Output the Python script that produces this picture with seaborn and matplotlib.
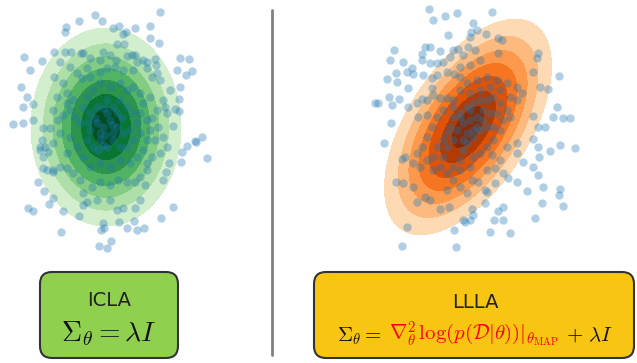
import numpy as np
import pandas as pd
import matplotlib.pyplot as plt
import seaborn as sns
from matplotlib.patches import FancyBboxPatch

sns.set_style("white")
plt.rcParams['font.family'] = ['DejaVu Sans']
plt.rcParams['mathtext.fontset'] = 'cm'

########################
# DATOS (coordenadas leidas en pixeles de la figura)
########################
# Puntos del panel izquierdo (ICLA)
icla_puntos = [
    (160, 12), (95, 15), (102, 21), (79, 21), (66, 27), (65, 32), (113, 28), (119, 26), (135, 28), (150, 26),
    (126, 32), (123, 34), (150, 38), (159, 43), (117, 44), (124, 44), (81, 53), (54, 52), (65, 52), (71, 52),
    (90, 58), (103, 52), (110, 55), (132, 55), (135, 55), (143, 60), (155, 59), (24, 57), (42, 61), (30, 70),
    (180, 58), (189, 59), (177, 70), (186, 75), (192, 71), (21, 87), (27, 97), (23, 107), (33, 104), (13, 124),
    (23, 123), (33, 120), (180, 87), (179, 99), (175, 109), (173, 126), (196, 142), (202, 137), (207, 158), (187, 146),
    (181, 162), (169, 163), (166, 172), (163, 180), (38, 182), (44, 191), (53, 198), (49, 204), (28, 208), (33, 211),
    (63, 211), (79, 216), (173, 207), (161, 218), (144, 228), (137, 230), (127, 228), (134, 221), (119, 222), (103, 223),
    (101, 230), (104, 228), (61, 232), (111, 241), (99, 246), (107, 248), (42, 140), (40, 147), (48, 152), (43, 168),
    (53, 172), (195, 141), (182, 152), (179, 111),
    (83, 53), (100, 60), (116, 60), (127, 56), (137, 62), (147, 62), (156, 65), (87, 68), (60, 62), (70, 67),
    (54, 77), (63, 83), (77, 73), (82, 78), (90, 77), (100, 72), (107, 68), (115, 67), (123, 70), (133, 70),
    (147, 68), (152, 77), (157, 73), (160, 80), (170, 90), (163, 100), (165, 107), (157, 110), (167, 113), (152, 118),
    (158, 127), (163, 137), (155, 140), (167, 147), (160, 153), (152, 157), (147, 163), (147, 170), (140, 177), (145, 185),
    (135, 182), (127, 182), (118, 180), (110, 185), (100, 182), (92, 187), (83, 193), (87, 202), (83, 205), (97, 200),
    (110, 200), (117, 210), (123, 208), (135, 208), (140, 200), (80, 180), (73, 173), (67, 168), (60, 167), (53, 170),
    (47, 170), (43, 157), (40, 150), (45, 147), (53, 143), (50, 128), (43, 128), (60, 133), (58, 120), (53, 110),
    (63, 115), (67, 103), (57, 97), (67, 93), (73, 100), (70, 110), (75, 117), (80, 123), (70, 137), (77, 147),
    (67, 153), (83, 157), (90, 167), (100, 163), (110, 167), (120, 160), (130, 163), (137, 157), (143, 150), (147, 140),
    (140, 133), (150, 130), (147, 120), (140, 113), (143, 103), (150, 97), (140, 93), (133, 87), (127, 90), (120, 83),
    (110, 87), (100, 83), (93, 90), (87, 97), (83, 107), (90, 113), (97, 107), (107, 100), (113, 107), (120, 100),
    (127, 107), (133, 113), (137, 123), (130, 130), (123, 133), (117, 127), (110, 120), (103, 127), (97, 123), (90, 130),
    (87, 140), (93, 147), (100, 140), (107, 147), (113, 140), (120, 147), (127, 147), (133, 140), (103, 145), (107, 113),
    (117, 113), (100, 133), (113, 133), (95, 118), (105, 135), (112, 125), (98, 150), (122, 118), (88, 122), (104, 108),
]

# Puntos del panel derecho (LLLA)
llla_puntos = [
    (429, 9), (433, 20), (445, 16), (457, 13), (492, 12), (473, 23), (471, 32), (477, 30), (486, 34), (448, 35),
    (394, 50), (390, 60), (403, 62), (425, 47), (430, 47), (422, 54), (440, 51), (453, 50), (458, 49), (470, 37),
    (468, 47), (475, 50), (463, 55), (450, 57), (443, 62), (430, 63), (437, 63), (422, 60), (412, 68), (407, 72),
    (396, 73), (387, 79), (397, 82), (413, 74), (423, 75), (432, 78), (437, 75), (447, 72), (454, 74), (460, 67),
    (470, 65), (480, 60), (498, 38), (502, 40), (498, 53), (538, 53), (537, 58), (533, 72), (559, 76), (548, 89),
    (540, 87), (408, 88), (389, 97), (399, 99), (392, 105), (375, 103), (378, 103), (408, 107), (417, 103), (422, 99),
    (427, 100), (433, 95), (440, 98), (447, 98), (453, 100), (432, 88), (557, 107), (553, 117), (563, 118), (570, 118),
    (533, 116), (538, 127), (545, 127), (391, 123), (418, 117), (427, 115), (384, 143), (560, 145), (575, 148), (533, 139),
    (538, 147), (550, 151), (539, 157), (533, 167), (538, 175), (543, 187), (560, 189), (559, 195), (563, 206), (542, 203),
    (535, 218), (527, 191), (517, 182), (508, 178), (503, 173), (517, 153), (523, 162), (405, 157), (402, 159), (396, 182),
    (403, 183), (407, 227), (402, 246), (456, 247), (454, 230), (490, 232), (510, 233), (494, 220), (503, 220), (498, 211),
    (503, 207), (485, 203), (487, 192), (485, 190), (472, 209), (473, 215), (463, 220), (465, 222), (470, 220), (449, 207),
    (440, 209), (430, 200), (425, 197), (417, 202), (413, 187), (495, 183), (478, 182), (472, 180), (495, 168), (500, 160),
    (507, 147), (517, 143), (492, 155), (487, 170),
    (460, 77), (467, 83), (477, 80), (487, 77), (497, 80), (507, 83), (517, 87), (522, 93), (517, 100), (510, 97),
    (500, 90), (490, 87), (480, 90), (470, 93), (460, 90), (453, 107), (443, 110), (437, 117), (432, 127), (427, 137),
    (422, 147), (417, 153), (413, 163), (420, 167), (427, 160), (433, 157), (437, 147), (443, 140), (447, 133), (450, 127),
    (453, 117), (460, 113), (467, 107), (473, 103), (480, 100), (487, 100), (493, 97), (500, 103), (507, 110), (510, 117),
    (503, 120), (497, 113), (490, 113), (483, 110), (477, 117), (470, 120), (463, 123), (457, 130), (453, 140), (447, 147),
    (443, 157), (440, 167), (433, 170), (447, 173), (453, 167), (460, 160), (463, 150), (467, 143), (473, 137), (480, 130),
    (487, 127), (493, 127), (500, 130), (493, 140), (487, 147), (480, 153), (473, 157), (470, 167), (460, 170), (453, 180),
    (460, 187), (467, 193), (447, 190), (477, 127), (460, 117), (467, 133), (473, 130), (470, 110), (463, 140), (483, 120),
]

# Gaussianas (centro y forma del contorno exterior)
icla_centro = (106, 127)
icla_cov = [[5625, 0], [0, 9801]]
llla_centro = (468, 127)
llla_cov = [[6960, -5080], [-5080, 11600]]
niveles = [0, 0.2, 0.34, 0.48, 0.6, 0.72, 0.85, 1.0]  # radios de Mahalanobis de cada banda


def dibujar_gauss(ax, centro, cov, paleta):
    xs = np.linspace(centro[0] - 140, centro[0] + 140, 500)
    ys = np.linspace(centro[1] - 140, centro[1] + 140, 500)
    X, Y = np.meshgrid(xs, ys)
    inv = np.linalg.inv(np.array(cov, dtype=float))
    dx = X - centro[0]
    dy = Y - centro[1]
    d = np.sqrt(inv[0, 0] * dx * dx + 2 * inv[0, 1] * dx * dy + inv[1, 1] * dy * dy)
    colores = plt.get_cmap(paleta)(np.linspace(0.97, 0.2, len(niveles) - 1))
    ax.contourf(X, Y, d, levels=niveles, colors=colores)


fig = plt.figure(figsize=(6.37, 3.63), dpi=100)
ax = fig.add_axes([0, 0, 1, 1])

dibujar_gauss(ax, icla_centro, icla_cov, "Greens")
dibujar_gauss(ax, llla_centro, llla_cov, "Oranges")

for puntos in [icla_puntos, llla_puntos]:
    df = pd.DataFrame(puntos, columns=["x", "y"])
    sns.scatterplot(data=df, x="x", y="y", ax=ax, color="#1f77b4", alpha=0.35, s=36, linewidth=0)

# linea divisoria
ax.plot([272, 272], [10, 355], color="#808080", lw=2)

# cajas
ax.add_patch(FancyBboxPatch((40, 272), 138, 86, boxstyle="round,pad=0,rounding_size=12",
                            facecolor="#8fd14f", edgecolor="#333333", lw=1.5))
ax.add_patch(FancyBboxPatch((314, 272), 320, 86, boxstyle="round,pad=0,rounding_size=12",
                            facecolor="#f8c513", edgecolor="#333333", lw=1.5))

ax.text(109, 300, "ICLA", ha="center", va="center", fontsize=14, color="#222222")
ax.text(109, 334, r"$\Sigma_\theta = \lambda I$", ha="center", va="center", fontsize=20, color="#111111")
ax.text(475, 302, "LLLA", ha="center", va="center", fontsize=14, color="#222222")

partes = [(r"$\Sigma_\theta =$", "#111111"),
          (r"$\nabla^2_\theta\,\log(p(\mathcal{D}|\theta))|_{\theta_{\mathrm{MAP}}}$", "red"),
          (r"$+\ \lambda I$", "#111111")]
r = fig.canvas.get_renderer()
textos = [ax.text(0, 341, s, color=c, fontsize=15, va="baseline", ha="left") for s, c in partes]
anchos = [t.get_window_extent(r).width for t in textos]
hueco = 7
x = 475 - (sum(anchos) + hueco * (len(anchos) - 1)) / 2
for t, w in zip(textos, anchos):
    t.set_x(x)
    x += w + hueco

ax.set_xlim(0, 637)
ax.set_ylim(363, 0)
ax.axis("off")

fig.savefig("out.png", dpi=100)
